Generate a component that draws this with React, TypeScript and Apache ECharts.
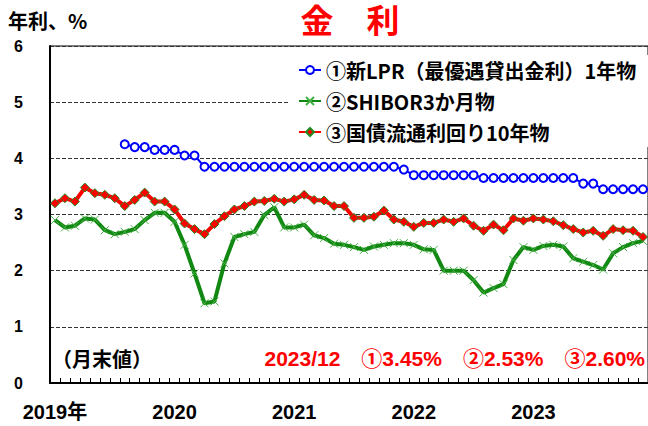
import React, { useEffect, useRef } from "react";
import * as echarts from "echarts";

const months = [
  "2019/01","2019/02","2019/03","2019/04","2019/05","2019/06","2019/07","2019/08","2019/09","2019/10","2019/11","2019/12",
  "2020/01","2020/02","2020/03","2020/04","2020/05","2020/06","2020/07","2020/08","2020/09","2020/10","2020/11","2020/12",
  "2021/01","2021/02","2021/03","2021/04","2021/05","2021/06","2021/07","2021/08","2021/09","2021/10","2021/11","2021/12",
  "2022/01","2022/02","2022/03","2022/04","2022/05","2022/06","2022/07","2022/08","2022/09","2022/10","2022/11","2022/12",
  "2023/01","2023/02","2023/03","2023/04","2023/05","2023/06","2023/07","2023/08","2023/09","2023/10","2023/11","2023/12",
];

const yearLabels = ["2019年", "2020", "2021", "2022", "2023"];

const lpr = [
  null, null, null, null, null, null, null, 4.25, 4.2, 4.2, 4.15, 4.15,
  4.15, 4.05, 4.05, 3.85, 3.85, 3.85, 3.85, 3.85, 3.85, 3.85, 3.85, 3.85,
  3.85, 3.85, 3.85, 3.85, 3.85, 3.85, 3.85, 3.85, 3.85, 3.85, 3.85, 3.8,
  3.7, 3.7, 3.7, 3.7, 3.7, 3.7, 3.7, 3.65, 3.65, 3.65, 3.65, 3.65,
  3.65, 3.65, 3.65, 3.65, 3.65, 3.55, 3.55, 3.45, 3.45, 3.45, 3.45, 3.45,
];

const shibor = [
  2.9, 2.77, 2.8, 2.93, 2.91, 2.72, 2.65, 2.69, 2.74, 2.9, 3.03, 3.03,
  2.87, 2.46, 1.95, 1.42, 1.45, 2.13, 2.6, 2.65, 2.69, 2.99, 3.13, 2.77,
  2.77, 2.82, 2.63, 2.58, 2.48, 2.46, 2.42, 2.37, 2.43, 2.46, 2.49, 2.49,
  2.46, 2.38, 2.37, 2.0, 2.0, 2.0, 1.83, 1.61, 1.69, 1.76, 2.19, 2.42,
  2.37, 2.44, 2.46, 2.43, 2.22, 2.16, 2.1, 2.02, 2.31, 2.42, 2.49, 2.53,
];

const cgb10 = [
  3.2, 3.29, 3.23, 3.48, 3.38, 3.35, 3.29, 3.15, 3.26, 3.39, 3.23, 3.23,
  3.09, 2.84, 2.74, 2.65, 2.83, 2.97, 3.09, 3.15, 3.23, 3.24, 3.28, 3.23,
  3.27, 3.35, 3.26, 3.25, 3.15, 3.15, 2.94, 2.94, 2.96, 3.07, 2.91, 2.87,
  2.78, 2.85, 2.85, 2.91, 2.87, 2.93, 2.8, 2.71, 2.82, 2.72, 2.93, 2.89,
  2.93, 2.91, 2.88, 2.81, 2.74, 2.68, 2.71, 2.62, 2.74, 2.72, 2.71, 2.6,
];

const seriesNames = [
  "①新LPR（最優遇貸出金利）1年物",
  "②SHIBOR3か月物",
  "③国債流通利回り10年物",
];

const titleText = "金　利";
const unitText = "年利、%";
const noteText = "（月末値）";
const latestText = "2023/12　①3.45%　②2.53%　③2.60%";

const FONT = "'Liberation Sans', Arial, 'Noto Sans CJK JP', sans-serif";
const CJK = "'Noto Sans CJK JP', 'Liberation Sans', sans-serif";

export default function App() {
  const ref = useRef<HTMLDivElement>(null);
  useEffect(() => {
    if (!ref.current) return;
    const chart = echarts.init(ref.current, null, { renderer: "svg" });
    chart.setOption({
      animation: false,
      backgroundColor: "#ffffff",
      grid: {
        left: 50,
        right: -2,
        top: 46,
        bottom: 43,
        show: true,
        borderColor: "#000",
        borderWidth: 1,
        backgroundColor: "transparent",
      },
      legend: {
        orient: "vertical",
        left: 290,
        top: 55,
        itemWidth: 22,
        itemHeight: 10,
        itemGap: 11,
        backgroundColor: "#ffffff",
        padding: [5, 12, 5, 8],
        textStyle: { fontSize: 20, fontWeight: "bold", color: "#000", fontFamily: CJK },
        data: seriesNames,
      },
      xAxis: {
        type: "category",
        data: months,
        boundaryGap: true,
        axisLine: { lineStyle: { color: "#000", width: 2 } },
        axisTick: { show: true, inside: true, length: 5, interval: 0, lineStyle: { color: "#000", width: 1 } },
        axisLabel: {
          interval: (idx: number) => idx % 12 === 0,
          formatter: (_v: string, idx: number) => (idx % 12 === 0 ? yearLabels[idx / 12] : ""),
          margin: 19,
          fontSize: 20,
          fontWeight: "bold",
          color: "#000",
          fontFamily: FONT,
        },
        splitLine: { show: false },
      },
      yAxis: {
        type: "value",
        min: 0,
        max: 6,
        interval: 1,
        axisLine: { show: true, lineStyle: { color: "#000", width: 2 } },
        axisTick: { show: false },
        axisLabel: { margin: 27, fontSize: 16, fontWeight: "bold", color: "#000", fontFamily: FONT },
        splitLine: { show: true, lineStyle: { color: "#333", type: [4, 2], width: 1 } },
      },
      series: [
        {
          name: seriesNames[0],
          type: "line",
          data: lpr,
          symbol: "emptyCircle",
          symbolSize: 8,
          showAllSymbol: true,
          lineStyle: { color: "#0000ff", width: 2 },
          itemStyle: { color: "#0000ff", borderColor: "#0000ff", borderWidth: 1 },
          connectNulls: false,
          z: 4,
        },
        {
          name: seriesNames[1],
          type: "line",
          data: shibor,
          symbol: "path://M0,0L10,10M10,0L0,10",
          symbolSize: 8,
          showAllSymbol: true,
          lineStyle: { color: "#118811", width: 4 },
          itemStyle: { color: "#118811", borderColor: "#44b044", borderWidth: 1 },
          z: 2,
        },
        {
          name: seriesNames[2],
          type: "line",
          data: cgb10,
          symbol: "diamond",
          symbolSize: 9,
          showAllSymbol: true,
          lineStyle: { color: "#ff0000", width: 4 },
          itemStyle: { color: "#ff0000", borderColor: "#228b22", borderWidth: 1 },
          z: 3,
        },
      ],
      graphic: [
        {
          type: "text",
          left: 8,
          top: 10,
          style: { text: unitText, fontSize: 20, fontWeight: "bold", fill: "#000", fontFamily: CJK },
        },
        {
          type: "text",
          x: 350,
          y: 19,
          style: { text: titleText, fontSize: 33, fontWeight: "bold", fill: "#ff0000", fontFamily: CJK, textAlign: "center", textVerticalAlign: "middle" },
        },
        {
          type: "text",
          x: 52,
          y: 358,
          style: { text: noteText, fontSize: 20, fontWeight: "bold", fill: "#000", fontFamily: CJK, textVerticalAlign: "middle" },
        },
        {
          type: "text",
          x: 645,
          y: 358,
          style: { text: latestText, fontSize: 21, fontWeight: "bold", fill: "#ff0000", fontFamily: FONT, textAlign: "right", textVerticalAlign: "middle" },
        },
      ],
    });
    return () => chart.dispose();
  }, []);
  return <div ref={ref} style={{ width: 648, height: 426, position: "absolute", left: 0, top: 0 }} />;
}
